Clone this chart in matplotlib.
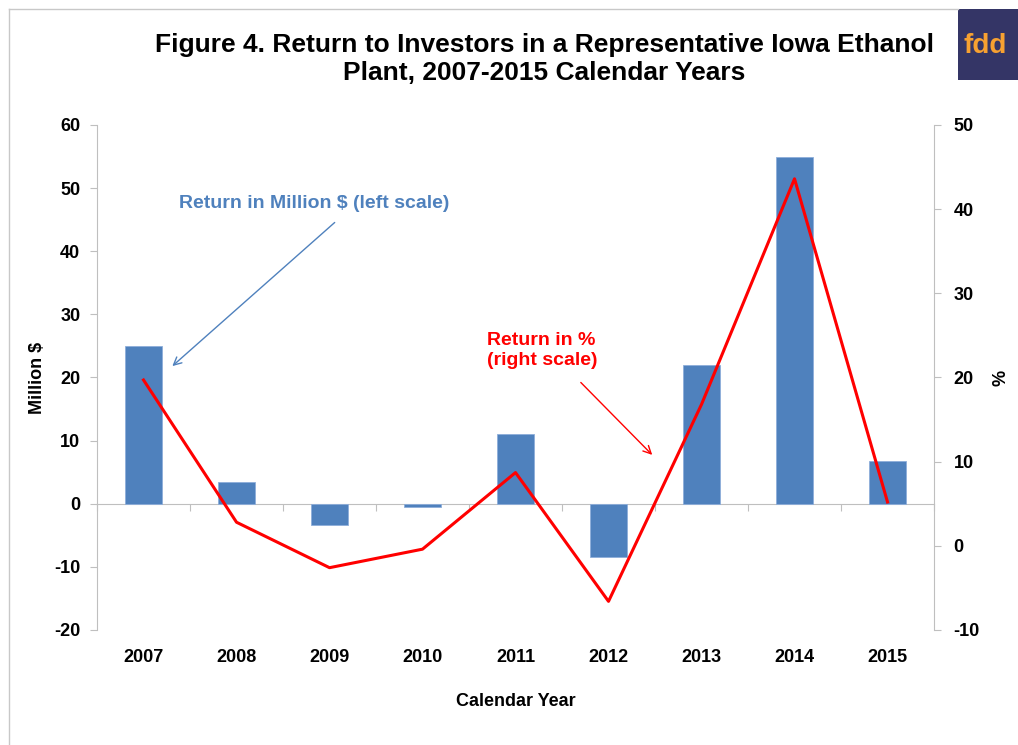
import numpy as np
import matplotlib
matplotlib.use('Agg')
import matplotlib.pyplot as plt
from matplotlib.patches import Rectangle
from matplotlib.lines import Line2D

years = ['2007', '2008', '2009', '2010', '2011', '2012', '2013', '2014', '2015']
return_musd = [25.0, 3.5, -3.3, -0.5, 11.0, -8.4, 22.0, 54.9, 6.7]   # left scale
return_pct = [19.7, 2.8, -2.6, -0.4, 8.7, -6.6, 16.8, 43.6, 5.2]      # right scale

left_ticks = [-20, -10, 0, 10, 20, 30, 40, 50, 60]
right_ticks = [-10, 0, 10, 20, 30, 40, 50]

plt.rcParams['font.family'] = ['Liberation Sans', 'DejaVu Sans']
plt.rcParams['font.weight'] = 'bold'

bar_col = '#4F81BD'
axis_col = '#BFBFBF'

fig = plt.figure(figsize=(10.18, 7.45), dpi=100)
ax = fig.add_axes([0.0953, 0.1544, 0.8222, 0.6779])
x = np.arange(len(years))

ax.bar(x, return_musd, width=0.4, color=bar_col, edgecolor='#8EAEDA', linewidth=0.6, zorder=2)
ax.set_xlim(-0.5, len(years) - 0.5)
ylo, yhi = left_ticks[0], left_ticks[-1]
ax.set_ylim(ylo, yhi)
ax.set_yticks(left_ticks)
ax.set_yticklabels([str(t) for t in left_ticks], fontsize=13, fontweight='bold')
ax.set_xticks(x)
ax.set_xticklabels(years, fontsize=13, fontweight='bold')
ax.tick_params(axis='x', length=0, pad=14)
ax.tick_params(axis='y', direction='out', length=5, color=axis_col, pad=7)
for s in ['top', 'right', 'bottom']:
    ax.spines[s].set_visible(False)
ax.spines['left'].set_color(axis_col)
ax.set_ylabel('Million $', fontsize=13, fontweight='bold', labelpad=6)
ax.set_xlabel('Calendar Year', fontsize=13, fontweight='bold', labelpad=19)

# category axis drawn at zero
zero_pos = (0 - ylo) / (yhi - ylo)
sec = ax.secondary_xaxis(zero_pos)
sec.set_xticks(np.arange(len(years) + 1) - 0.5)
sec.set_xticklabels([])
sec.tick_params(direction='out', length=5, color=axis_col)
sec.spines['bottom'].set_color(axis_col)

ax2 = ax.twinx()
ax2.plot(x, return_pct, color='#FF0000', linewidth=2.2, zorder=3)
ax2.set_ylim(right_ticks[0], right_ticks[-1])
ax2.set_yticks(right_ticks)
ax2.set_yticklabels([str(t) for t in right_ticks], fontsize=13, fontweight='bold')
ax2.tick_params(axis='y', direction='out', length=5, color=axis_col, pad=9)
for s in ['top', 'left', 'bottom']:
    ax2.spines[s].set_visible(False)
ax2.spines['right'].set_color(axis_col)
ax2.set_ylabel('%', fontsize=13, fontweight='bold', labelpad=9)

# annotations
ax.annotate('Return in Million $ (left scale)', xy=(0.31, 21.8), xytext=(1.83, 47.5),
            textcoords='data', color=bar_col, fontsize=14, fontweight='bold', ha='center', va='center',
            arrowprops=dict(arrowstyle='->', color=bar_col, lw=1.0, shrinkA=8, shrinkB=0,
                            relpos=(0.62, 0.0)))
ax2.annotate('Return in %\n(right scale)', xy=(5.47, 10.8), xytext=(3.69, 23.2),
             color='#FF0000', fontsize=14, fontweight='bold', ha='left', va='center',
             linespacing=1.2,
             arrowprops=dict(arrowstyle='->', color='#FF0000', lw=1.0, shrinkA=11, shrinkB=0,
                             relpos=(0.73, 0.0)))

fig.text(0.535, 0.921, 'Figure 4. Return to Investors in a Representative Iowa Ethanol\nPlant, 2007-2015 Calendar Years',
         ha='center', va='center', fontsize=19, fontweight='bold', linespacing=1.22)

# slide frame and logo
fig.add_artist(Line2D([9 / 1018, 9 / 1018], [0, 1 - 9 / 745], color='#C8C8C8', lw=1))
fig.add_artist(Line2D([9 / 1018, 958 / 1018], [1 - 9 / 745, 1 - 9 / 745], color='#C8C8C8', lw=1))
fig.add_artist(Rectangle((958 / 1018, 1 - 80 / 745), 60 / 1018, 71 / 745,
                         transform=fig.transFigure, facecolor='#343566', edgecolor='none'))
fig.text(963 / 1018, 1 - 46 / 745, 'fdd', color='#F7A131', fontsize=20, fontweight='bold',
         ha='left', va='center')

fig.savefig('out.png', dpi=100)
